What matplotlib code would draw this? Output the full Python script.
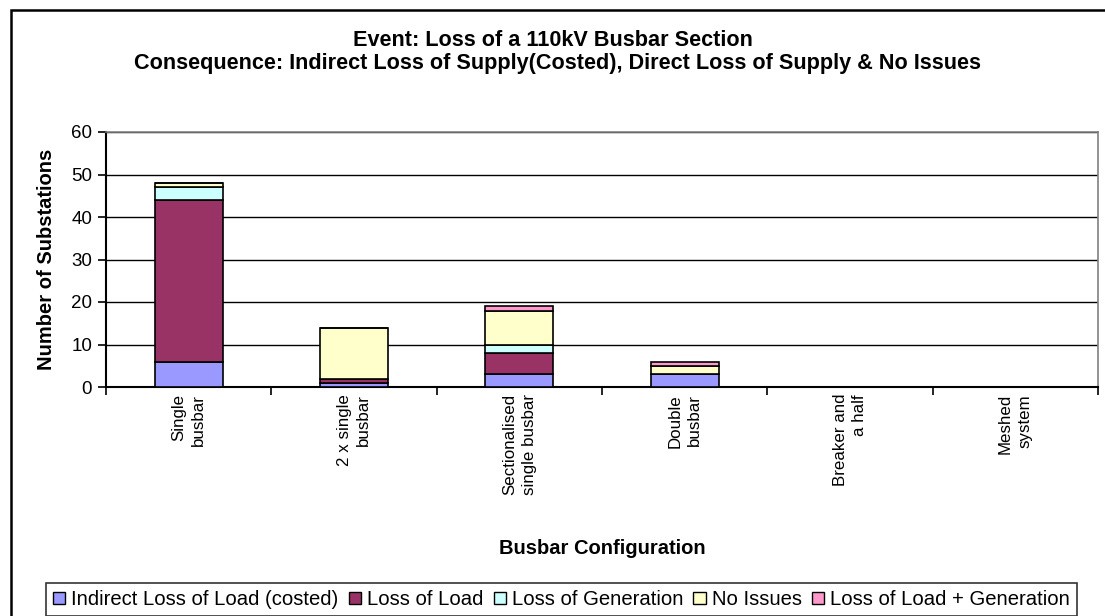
import numpy as np
import matplotlib.pyplot as plt
from matplotlib.patches import Rectangle, Patch

plt.rcParams['font.family'] = ['Liberation Sans', 'DejaVu Sans']

# categories and stacked series
categories = ["Single\nbusbar", "2 x single\nbusbar", "Sectionalised\nsingle busbar",
              "Double\nbusbar", "Breaker and\na half", "Meshed\nsystem"]
indirect_costed = [6, 1, 3, 3, 0, 0]
loss_of_load = [38, 1, 5, 0, 0, 0]
loss_of_gen = [3, 0, 2, 0, 0, 0]
no_issues = [1, 12, 8, 2, 0, 0]
load_plus_gen = [0, 0, 1, 1, 0, 0]

series = [
    ("Indirect Loss of Load (costed)", indirect_costed, "#9999FF"),
    ("Loss of Load", loss_of_load, "#993366"),
    ("Loss of Generation", loss_of_gen, "#CCFFFF"),
    ("No Issues", no_issues, "#FFFFCC"),
    ("Loss of Load + Generation", load_plus_gen, "#FF99CC"),
]

W, H = 1105, 616
fig = plt.figure(figsize=(W / 100, H / 100), dpi=100)

# outer chart frame
fig.patches.append(Rectangle((11 / W, -0.05), 1.2, (H - 10) / H + 0.05,
                             transform=fig.transFigure, fill=False,
                             edgecolor="black", linewidth=1.8))

ax = fig.add_axes([106 / W, (H - 387) / H, (1098 - 106) / W, 255 / H])

x = np.arange(len(categories))
bottom = np.zeros(len(categories))
for name, vals, col in series:
    vals = np.array(vals, dtype=float)
    ax.bar(x, vals, bottom=bottom, width=0.41, color=col,
           edgecolor="black", linewidth=1.2, label=name, zorder=3)
    bottom += vals

ax.set_xlim(-0.5, len(categories) - 0.5)
ax.set_ylim(0, 60)
ax.set_yticks(range(0, 61, 10))
ax.yaxis.grid(True, color="black", linewidth=1.0, zorder=0)
ax.tick_params(axis="y", labelsize=13.5, direction="out", length=6, width=1.2, pad=4)

# category ticks at boundaries, labels at centres
ax.set_xticks(np.arange(len(categories) + 1) - 0.5)
ax.set_xticklabels([])
ax.set_xticks(x, minor=True)
ax.set_xticklabels(categories, minor=True, rotation=90, fontsize=12.2,
                   va="top", ha="center", multialignment="right", linespacing=1.4)
ax.tick_params(axis="x", which="major", direction="out", length=6, width=1.2)
ax.tick_params(axis="x", which="minor", length=0, pad=5)

for s in ["top", "right"]:
    ax.spines[s].set_color("#808080")
    ax.spines[s].set_linewidth(1.2)
for s in ["left", "bottom"]:
    ax.spines[s].set_color("black")
    ax.spines[s].set_linewidth(1.5)

ax.set_ylabel("Number of Substations", fontsize=14.5, fontweight="bold")
ax.yaxis.set_label_coords((56 - 106) / 992, 0.5)
fig.text((106 + 1098) / 2 / W, 1 - 548 / H, "Busbar Configuration",
         fontsize=14.5, fontweight="bold", ha="center", va="center")

fig.text(553 / W, 1 - 40 / H, "Event: Loss of a 110kV Busbar Section",
         fontsize=15.6, fontweight="bold", ha="center", va="center")
fig.text(557 / W, 1 - 63 / H,
         "Consequence: Indirect Loss of Supply(Costed), Direct Loss of Supply & No Issues",
         fontsize=15.6, fontweight="bold", ha="center", va="center")

handles = [Patch(facecolor=c, edgecolor="black", linewidth=1.0, label=n) for n, _, c in series]
leg = fig.legend(handles=handles, loc="upper left", bbox_to_anchor=(46 / W, 1 - 583 / H),
                 ncol=5, fontsize=14.6, frameon=True, fancybox=False,
                 handlelength=0.6, handleheight=0.6, handletextpad=0.3,
                 columnspacing=0.5, borderpad=0.35, borderaxespad=0)
leg.get_frame().set_edgecolor("black")
leg.get_frame().set_linewidth(1.2)

fig.savefig("out.png", dpi=100)
